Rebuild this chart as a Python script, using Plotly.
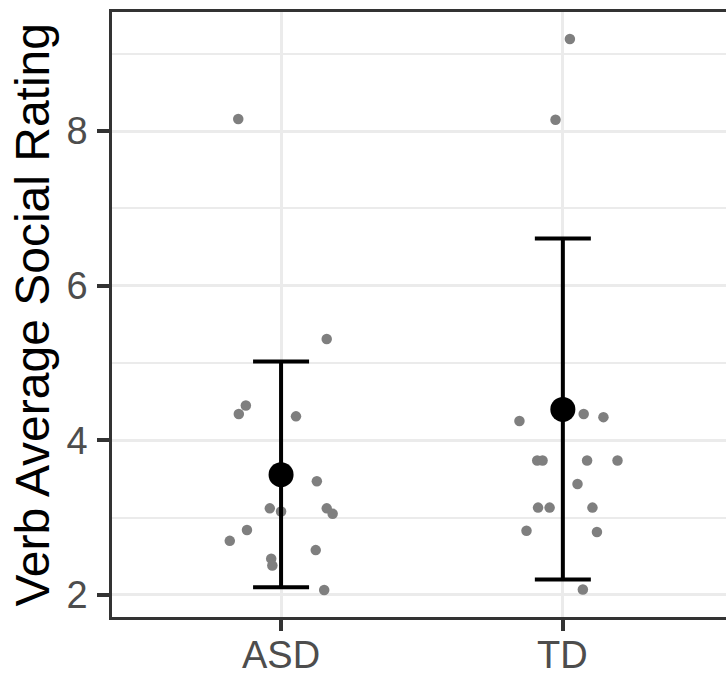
import plotly.graph_objects as go

# ---- data ----
groups = ["ASD", "TD"]
group_pos = [1, 2]

asd_values = [5.31, 4.45, 4.34, 4.31, 3.47, 3.12, 3.08, 3.12, 3.05, 2.84, 2.70, 2.58, 2.47, 2.38, 2.065, 8.155]
asd_jitter = [0.162, -0.125, -0.150, 0.053, 0.127, -0.040, 0.000, 0.162, 0.183, -0.121, -0.182, 0.123, -0.035, -0.031, 0.153, -0.152]

td_values = [4.34, 4.30, 4.25, 3.74, 3.74, 3.74, 3.74, 3.435, 3.13, 3.13, 3.13, 2.83, 2.815, 2.07, 9.19, 8.147]
td_jitter = [0.074, 0.144, -0.154, -0.091, -0.072, 0.086, 0.194, 0.052, -0.088, -0.047, 0.105, -0.129, 0.121, 0.071, 0.025, -0.026]

means = [3.556, 4.40]
lower = [2.10, 2.20]
upper = [5.02, 6.61]

y_tickvals = [2, 4, 6, 8]
y_title = "Verb Average Social Rating"

FONT = "Liberation Sans, Arial, sans-serif"
W, H = 726, 673
L, R, T, B = 112, 0, 12, 56
PW, PH = W - L - R, H - T - B

# ---- figure ----
fig = go.Figure()

pts_x = [group_pos[0] + j for j in asd_jitter] + [group_pos[1] + j for j in td_jitter]
pts_y = asd_values + td_values
fig.add_trace(go.Scatter(
    x=pts_x, y=pts_y, mode="markers",
    marker=dict(color="#7F7F7F", size=10.5, line=dict(width=0)),
    hoverinfo="y", showlegend=False,
))

fig.add_trace(go.Scatter(
    x=group_pos, y=means, mode="markers",
    marker=dict(color="black", size=25, line=dict(width=0)),
    error_y=dict(
        type="data", symmetric=False,
        array=[u - m for u, m in zip(upper, means)],
        arrayminus=[m - l for m, l in zip(means, lower)],
        color="black", thickness=4, width=28,
    ),
    showlegend=False,
))

annotations = [dict(
    text=y_title, textangle=-90, showarrow=False,
    xref="paper", yref="paper", x=(32 - L) / PW, y=0.5,
    xanchor="center", yanchor="middle",
    font=dict(size=48, color="black", family=FONT),
)]
# x tick labels as text placed under the axis
for gp, g in zip(group_pos, groups):
    annotations.append(dict(
        text=g, showarrow=False, xref="x", yref="paper",
        x=gp, y=-(655 - (H - B)) / PH,
        xanchor="center", yanchor="middle",
        font=dict(size=38, color="#4D4D4D", family=FONT),
    ))

fig.update_layout(
    width=W, height=H,
    margin=dict(l=L, r=R, t=T, b=B, autoexpand=False),
    paper_bgcolor="white", plot_bgcolor="white",
    font=dict(family=FONT),
    xaxis=dict(
        range=[0.4, 2.579], tickmode="array", tickvals=group_pos, ticktext=["", ""],
        showgrid=True, gridcolor="#EBEBEB", gridwidth=3.3,
        zeroline=False, automargin=False,
        showline=True, linecolor="#333333", linewidth=2.5, mirror=True,
        ticks="outside", ticklen=11, tickwidth=3.5, tickcolor="#333333",
        tickfont=dict(size=38, color="#4D4D4D"),
    ),
    yaxis=dict(
        range=[1.715, 9.54], tickmode="array", tickvals=y_tickvals,
        ticktext=[str(v) for v in y_tickvals],
        showgrid=True, gridcolor="#EBEBEB", gridwidth=3.3,
        minor=dict(tickvals=[3, 5, 7, 9], showgrid=True, gridcolor="#EBEBEB", gridwidth=1.7, ticks=""),
        zeroline=False, automargin=False,
        showline=True, linecolor="#333333", linewidth=2.5,
        ticks="outside", ticklen=12, tickwidth=3.5, tickcolor="#333333",
        tickfont=dict(size=38, color="#4D4D4D"),
        ticklabelstandoff=2,
    ),
    annotations=annotations,
)

fig.write_html(
    "out.html",
    config={"displayModeBar": False},
    post_script="document.body.style.margin='0';document.body.style.overflow='hidden';",
)
